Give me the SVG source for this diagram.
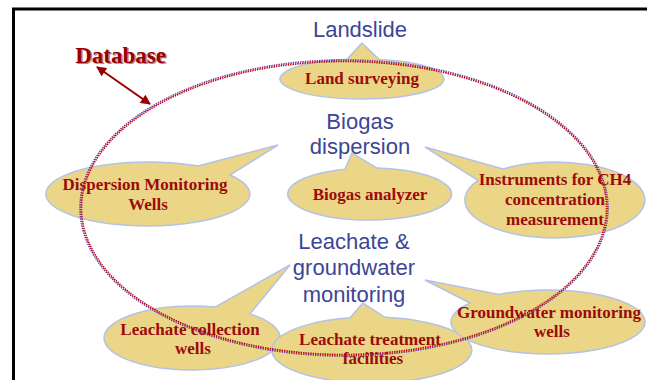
<svg xmlns="http://www.w3.org/2000/svg" width="647" height="380" viewBox="0 0 647 380">
<style>
.bub{fill:#ebd687;stroke:#b3c2e6;stroke-width:1.5}
.t{font-family:"Liberation Serif","Times New Roman",serif;font-weight:bold;font-size:17px;fill:#9c0a0a;text-anchor:middle}
.h{font-family:"Liberation Sans",Arial,sans-serif;font-size:22px;fill:#3d4596;text-anchor:middle}
.dot{fill:none;stroke-dasharray:1.4 1;stroke-width:1.6}
</style>
<defs>
<marker id="ah" viewBox="0 0 10 10" refX="9" refY="5" markerWidth="6" markerHeight="5" orient="auto-start-reverse">
<path d="M0,0 L10,5 L0,10 Z" fill="#990000"/>
</marker>
</defs>
<rect width="647" height="380" fill="#ffffff"/>
<g id="frame">
<path d="M13.5,380 L13.5,9 L647,9" fill="none" stroke="#000" stroke-width="3"/>
</g>
<g id="landslide">
<text class="h" x="360" y="37">Landslide</text>
</g>
<g id="biogas-dispersion">
<text class="h" x="360" y="129">Biogas</text>
<text class="h" x="360" y="154">dispersion</text>
</g>
<g id="leachate-groundwater">
<text class="h" x="354" y="249">Leachate &amp;</text>
<text class="h" x="354" y="275">groundwater</text>
<text class="h" x="354" y="302">monitoring</text>
</g>
<g id="land-surveying">
<path class="bub" d="M347,59.3 L362,43 L379,59.4 A82,20 0 1 1 347,59.3 Z"/>
<text class="t" x="362" y="84">Land surveying</text>
</g>
<g id="biogas-analyzer">
<path class="bub" d="M345,169.2 L352,153 L377,168.1 A82,26 0 1 1 345,169.2 Z"/>
<text class="t" x="370" y="200">Biogas analyzer</text>
</g>
<g id="dispersion-wells">
<path class="bub" d="M198,166.1 L278,145 L230,175 A102,32 0 1 1 198,166.1 Z"/>
<text class="t" x="145" y="190">Dispersion Monitoring</text>
<text class="t" x="148" y="210">Wells</text>
</g>
<g id="ch4-instruments">
<path class="bub" d="M478,180.3 L425,147 L503,169 A90,38 0 1 1 478,180.3 Z"/>
<text class="t" x="555" y="185">Instruments for CH4</text>
<text class="t" x="555" y="205">concentration</text>
<text class="t" x="555" y="225">measurement</text>
</g>
<g id="leachate-collection">
<path class="bub" d="M215,307.1 L290,265 L250,313.9 A88,32 0 1 1 215,307.1 Z"/>
<text class="t" x="190" y="335">Leachate collection</text>
<text class="t" x="193" y="354">wells</text>
</g>
<g id="leachate-treatment">
<path class="bub" d="M350,317.8 L363,303 L385,317.3 A100,33 0 1 1 350,317.8 Z"/>
<text class="t" x="370" y="345">Leachate treatment</text>
<text class="t" x="373" y="364">facilities</text>
</g>
<g id="groundwater-wells">
<path class="bub" d="M470,303 L425,280 L499,294.4 A97,32 0 1 1 470,303 Z"/>
<text class="t" x="549" y="318">Groundwater monitoring</text>
<text class="t" x="552" y="337">wells</text>
</g>
<g id="database">
<text x="122" y="64" font-family="'Liberation Serif','Times New Roman',serif" font-weight="bold" font-size="23" fill="#c98080" text-anchor="middle">Database</text>
<text x="120.5" y="62.5" font-family="'Liberation Serif','Times New Roman',serif" font-weight="bold" font-size="23" fill="#990000" text-anchor="middle">Database</text>
</g>
<g id="connectors">
<line x1="97" y1="67" x2="150" y2="104" stroke="#990000" stroke-width="2" marker-start="url(#ah)" marker-end="url(#ah)"/>
<ellipse class="dot" cx="344" cy="208" rx="264" ry="148" stroke="#7030a0"/>
<ellipse class="dot" cx="344" cy="208" rx="262.5" ry="146.5" stroke="#c00000"/>
</g>
</svg>
